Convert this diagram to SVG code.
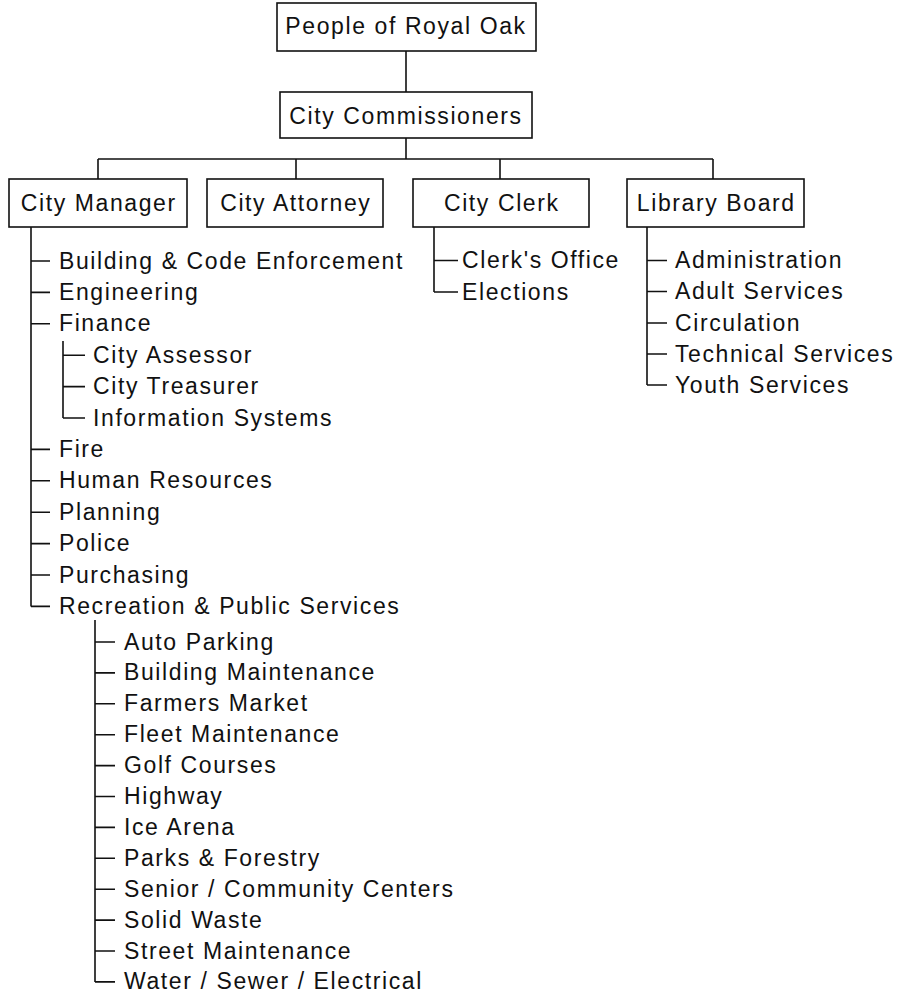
<svg xmlns="http://www.w3.org/2000/svg" width="901" height="997" viewBox="0 0 901 997">
<style>
text{font-family:"Liberation Sans",Arial,sans-serif;font-size:23px;letter-spacing:1.6px;fill:#111}
.box{fill:#fff;stroke:#111;stroke-width:1.6}
.c{text-anchor:middle}
#connectors path{fill:none;stroke:#111;stroke-width:1.6}
</style>
<rect width="901" height="997" fill="#fff"/>
<g id="connectors">
<path d="M406 51V92M406 138V159M98 159H713M98 159V179M296 159V179M500 159V179M713 159V179"/>
<path d="M31 227V606.4M31 261H50M31 292.4H50M31 323.8H50M31 449.4H50M31 480.8H50M31 512.2H50M31 543.6H50M31 575H50M31 606.4H50"/>
<path d="M63 341V418M63 355.2H85M63 386.6H85M63 418H85"/>
<path d="M95 620V981.9M95 642H115M95 672.9H115M95 703.8H115M95 734.7H115M95 765.6H115M95 796.5H115M95 827.4H115M95 858.3H115M95 889.2H115M95 920.1H115M95 951H115M95 981.9H115"/>
<path d="M434 227V292M434 260.5H458M434 292H458"/>
<path d="M647 227V385M647 260.5H667M647 291.5H667M647 323H667M647 354H667M647 385H667"/>
</g>
<g id="people"><rect class="box" x="277" y="3" width="259" height="48"/><text class="c" x="406" y="34">People of Royal Oak</text></g>
<g id="commissioners"><rect class="box" x="280" y="92" width="252" height="46"/><text class="c" x="406" y="123.5">City Commissioners</text></g>
<g id="manager"><rect class="box" x="9" y="179" width="178" height="48"/><text class="c" x="98.8" y="210.5">City Manager</text></g>
<g id="attorney"><rect class="box" x="207" y="179" width="176" height="48"/><text class="c" x="295.8" y="210.5">City Attorney</text></g>
<g id="clerk"><rect class="box" x="413" y="179" width="176" height="48"/><text class="c" x="501.8" y="210.5">City Clerk</text></g>
<g id="library"><rect class="box" x="627" y="179" width="177" height="48"/><text class="c" x="716.3" y="210.5">Library Board</text></g>
<g id="manager-items">
<text x="59" y="268.5">Building &amp; Code Enforcement</text>
<text x="59" y="299.9">Engineering</text>
<text x="59" y="331.3">Finance</text>
<text x="93" y="362.7">City Assessor</text>
<text x="93" y="394.1">City Treasurer</text>
<text x="93" y="425.5">Information Systems</text>
<text x="59" y="456.9">Fire</text>
<text x="59" y="488.3">Human Resources</text>
<text x="59" y="519.7">Planning</text>
<text x="59" y="551.1">Police</text>
<text x="59" y="582.5">Purchasing</text>
<text x="59" y="613.9">Recreation &amp; Public Services</text>
<text x="124" y="649.5">Auto Parking</text>
<text x="124" y="680.4">Building Maintenance</text>
<text x="124" y="711.3">Farmers Market</text>
<text x="124" y="742.2">Fleet Maintenance</text>
<text x="124" y="773.1">Golf Courses</text>
<text x="124" y="804">Highway</text>
<text x="124" y="834.9">Ice Arena</text>
<text x="124" y="865.8">Parks &amp; Forestry</text>
<text x="124" y="896.7">Senior / Community Centers</text>
<text x="124" y="927.6">Solid Waste</text>
<text x="124" y="958.5">Street Maintenance</text>
<text x="124" y="989.4">Water / Sewer / Electrical</text>
</g>
<g id="clerk-items">
<text x="462" y="268">Clerk's Office</text>
<text x="462" y="299.5">Elections</text>
</g>
<g id="library-items">
<text x="675" y="268">Administration</text>
<text x="675" y="299">Adult Services</text>
<text x="675" y="330.5">Circulation</text>
<text x="675" y="361.5">Technical Services</text>
<text x="675" y="392.5">Youth Services</text>
</g>
</svg>
